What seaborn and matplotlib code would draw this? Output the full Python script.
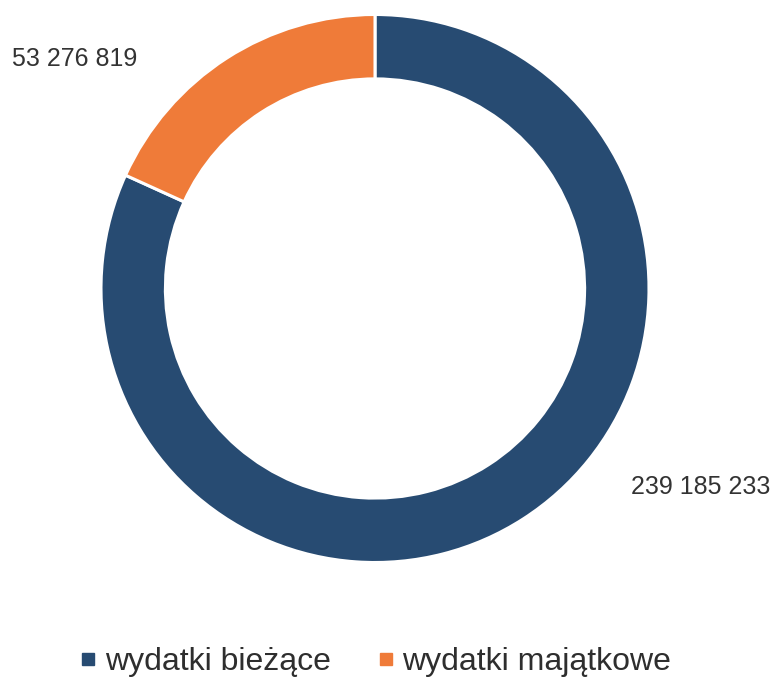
import matplotlib
matplotlib.use("Agg")
import matplotlib.pyplot as plt
from matplotlib.lines import Line2D
import seaborn as sns

categories = ["wydatki bieżące", "wydatki majątkowe"]
values = [239185233, 53276819]
value_labels = ["239 185 233", "53 276 819"]
colors = ["#274b72", "#ef7b39"]

sns.set_theme(style="white")
plt.rcParams["font.family"] = ["Liberation Sans", "DejaVu Sans"]

W, H = 777, 679
fig = plt.figure(figsize=(W / 100, H / 100), dpi=100)
ax = fig.add_axes([0, 0, 1, 1])
ax.set_xlim(0, W)
ax.set_ylim(0, H)
ax.set_aspect("equal")
ax.axis("off")

cx, cy, R = 375, H - 288.5, 274
ring = 0.235
wedges, _ = ax.pie(values, colors=colors, startangle=90, counterclock=False,
                   center=(cx, cy), radius=R, frame=True,
                   wedgeprops=dict(width=R * ring, edgecolor="white", linewidth=2.2))
ax.set_xlim(0, W)
ax.set_ylim(0, H)
ax.axis("off")

label_pos = [(701, H - 487), (75, H - 59)]
for (x, y), t in zip(label_pos, value_labels):
    ax.text(x, y, t, ha="center", va="center", fontsize=18, color="#333333")

handles = [Line2D([], [], marker="s", linestyle="none", markersize=9,
                  markerfacecolor=c, markeredgecolor=c) for c in colors]
ax.legend(handles, categories, loc="center", bbox_to_anchor=(376 / W, 17 / H),
          ncol=2, frameon=False, fontsize=23, handlelength=0.45, handletextpad=0.3,
          columnspacing=1.5, borderpad=0, labelcolor="#2e2e2e")

fig.savefig("out.png", dpi=100)
